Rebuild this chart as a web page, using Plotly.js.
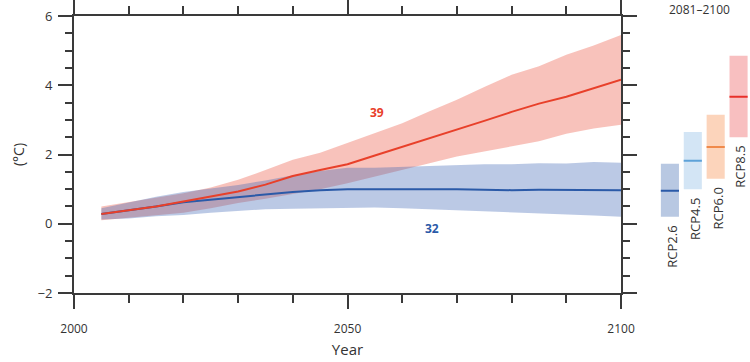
<!DOCTYPE html>
<html>
<head>
<meta charset="utf-8">
<script src="https://cdn.plot.ly/plotly-3.0.1.min.js"></script>
<style>html,body{margin:0;padding:0;background:#fff;}#chart{width:750px;height:362px;}</style>
</head>
<body>
<div id="chart"></div>
<script>
// Time axis (years)
const years = [2005,2010,2015,2020,2025,2030,2035,2040,2045,2050,2055,2060,2065,2070,2075,2080,2085,2090,2095,2100];

// RCP8.5 (red): mean and 5-95% range (°C)
const rcp85Mean  = [0.28,0.38,0.50,0.64,0.78,0.93,1.13,1.38,1.55,1.72,1.97,2.22,2.45,2.72,2.97,3.23,3.47,3.67,3.92,4.16];
const rcp85Upper = [0.50,0.62,0.75,0.88,1.05,1.27,1.55,1.85,2.05,2.33,2.62,2.90,3.25,3.58,3.95,4.30,4.55,4.88,5.15,5.45];
const rcp85Lower = [0.10,0.18,0.25,0.32,0.45,0.60,0.72,0.85,1.00,1.17,1.37,1.56,1.75,1.94,2.08,2.22,2.38,2.60,2.75,2.86];

// RCP2.6 (blue): mean and range (°C)
const rcp26Mean  = [0.28,0.38,0.50,0.62,0.70,0.78,0.85,0.92,0.97,1.00,1.00,1.01,1.00,1.00,0.98,0.97,0.98,0.98,0.99,0.97];
const rcp26Upper = [0.45,0.62,0.78,0.92,1.02,1.12,1.25,1.40,1.52,1.62,1.62,1.65,1.68,1.70,1.72,1.72,1.75,1.74,1.78,1.76];
const rcp26Lower = [0.12,0.15,0.22,0.25,0.32,0.38,0.42,0.43,0.45,0.47,0.47,0.45,0.42,0.40,0.37,0.35,0.32,0.28,0.24,0.20];

// 2081-2100 side bars
const scenarios   = ["RCP2.6","RCP4.5","RCP6.0","RCP8.5"];
const barBottom   = [0.20,1.00,1.30,2.50];
const barTop      = [1.73,2.65,3.15,4.85];
const barMean     = [0.95,1.82,2.22,3.67];
const barColors   = ["#b8c8e2","#d3e5f5","#fcd4bb","#f8bfc0"];
const meanColors  = ["#2a5aa8","#5ea2d8","#f08a4b","#e8302a"];

// Model counts
const countLabels = ["39","32"];
const countYears  = [2055.4,2065.4];
const countVals   = [3.2,-0.14];

const RED = "#e8402a", BLUE = "#2b5aa8";
const AX = "#3a3a3a";

const traces = [
  {x: years, y: rcp85Lower, mode:"lines", line:{width:0}, hoverinfo:"skip", showlegend:false},
  {x: years, y: rcp85Upper, mode:"lines", line:{width:0}, fill:"tonexty", fillcolor:"rgba(235,80,60,0.35)", hoverinfo:"skip", showlegend:false},
  {x: years, y: rcp26Lower, mode:"lines", line:{width:0}, hoverinfo:"skip", showlegend:false},
  {x: years, y: rcp26Upper, mode:"lines", line:{width:0}, fill:"tonexty", fillcolor:"rgba(60,100,180,0.35)", hoverinfo:"skip", showlegend:false},
  {x: years, y: rcp26Mean, mode:"lines", line:{color:BLUE, width:2}, name:"RCP2.6", showlegend:false},
  {x: years, y: rcp85Mean, mode:"lines", line:{color:RED, width:2}, name:"RCP8.5", showlegend:false},
  {type:"bar", x:[0,1,2,3], y: barTop.map((t,i)=>t-barBottom[i]), base: barBottom, width:0.79,
   marker:{color: barColors, line:{width:0}}, xaxis:"x2", yaxis:"y", showlegend:false, hoverinfo:"skip"},
  {type:"scatter", mode:"markers", x:[0,1,2,3], y: barMean, xaxis:"x2", yaxis:"y",
   marker:{symbol:"line-ew", size:13, line:{color: meanColors, width:2}}, showlegend:false, hoverinfo:"skip"}
];

const annotations = [];
countLabels.forEach((t,i)=>{
  annotations.push({x: countYears[i], y: countVals[i], xref:"x", yref:"y", text:"<b>"+t+"</b>", showarrow:false,
    font:{family:"Open Sans", size:12, color: i===0 ? RED : BLUE}});
});
scenarios.forEach((s,i)=>{
  annotations.push({x:i, y: barBottom[i], xref:"x2", yref:"y", text:s, textangle:-90, showarrow:false,
    xanchor:"center", yanchor:"top", xshift:2, yshift:-7, font:{family:"Open Sans", size:13, color:"#333"}});
});
annotations.push({x:0.9246, y:1.0578, xref:"paper", yref:"paper", text:"2081–2100", showarrow:false,
  xanchor:"center", yanchor:"top", borderpad:0, font:{family:"Open Sans", size:12, color:"#333"}});

const layout = {
  width:750, height:362,
  margin:{l:74, r:0, t:16, b:69},
  paper_bgcolor:"#fff", plot_bgcolor:"#fff",
  font:{family:"Open Sans", color:"#333"},
  xaxis:{domain:[0,0.8092], range:[2000,2100], tickvals:[2000,2050,2100], ticks:"outside", ticklen:14, tickwidth:2, tickcolor:AX,
    showline:true, linecolor:AX, linewidth:2, mirror:"ticks", showgrid:false, zeroline:false,
    minor:{dtick:10, ticks:"outside", ticklen:8, tickwidth:2, tickcolor:AX, showgrid:false},
    tickfont:{size:12, color:"#333"}, ticklabelstandoff:10,
    title:{text:"Year", font:{size:15, color:"#333"}, standoff:8}},
  yaxis:{range:[-2,6], tickvals:[-2,0,2,4,6], ticks:"outside", ticklen:14, tickwidth:2, tickcolor:AX,
    showline:true, linecolor:AX, linewidth:2, mirror:"ticks", showgrid:false, zeroline:false,
    minor:{dtick:0.5, ticks:"outside", ticklen:7, tickwidth:2, tickcolor:AX, showgrid:false},
    tickfont:{size:13, color:"#333"}, ticklabelstandoff:3,
    title:{text:"(°C)", font:{size:14, color:"#333"}, standoff:10}},
  xaxis2:{domain:[0.8646,1], range:[-0.5,3.5], anchor:"y", visible:false, showgrid:false, zeroline:false},
  annotations: annotations,
  showlegend:false
};

Plotly.newPlot("chart", traces, layout, {displayModeBar:false, staticPlot:true});
</script>
</body>
</html>
